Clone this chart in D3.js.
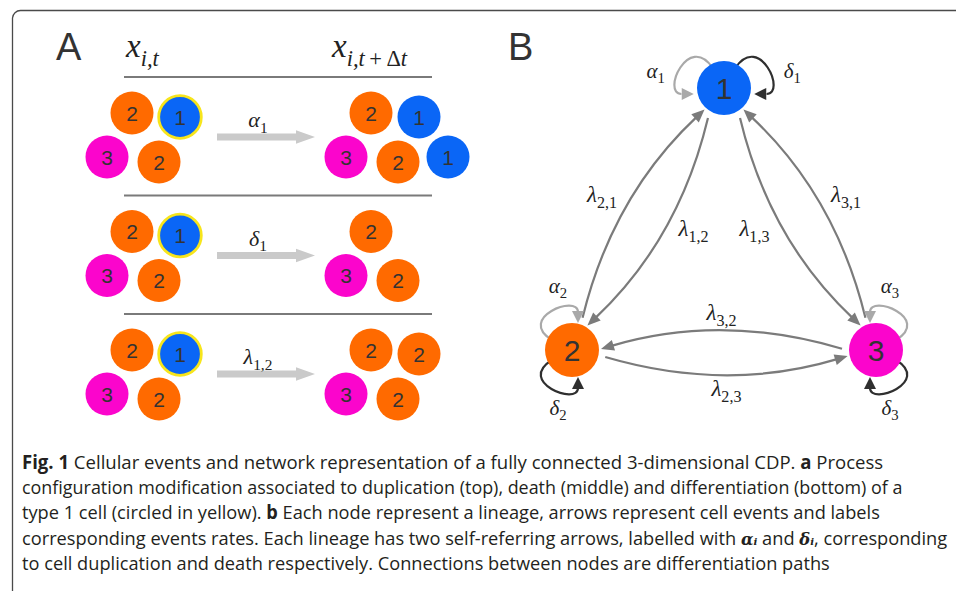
<!DOCTYPE html>
<html>
<head>
<meta charset="utf-8">
<script src="https://cdn.jsdelivr.net/npm/d3@7"></script>
<style>
  html, body { margin: 0; padding: 0; background: #fff; }
  svg { display: block; }
</style>
</head>
<body>
<svg id="fig" width="956" height="591"></svg>
<script>
// ---------------- data ----------------
// cell lineages (types) and their colours
const lineages = ["1", "2", "3"];
const lineageColors = ["#0a66f6", "#ff6a00", "#fb05cc"];

// panel A: the three events acting on the circled type 1 cell
const eventSymbols = ["α", "δ", "λ"];
const eventSubscripts = ["1", "1", "1,2"];
// cell configuration before / after each event ("" = empty place)
const cellsBefore = [["2", "1", "3", "2"], ["2", "1", "3", "2"], ["2", "1", "3", "2"]];
const cellsAfter  = [["2", "1", "3", "2", "1"], ["2", "", "3", "2"], ["2", "2", "3", "2"]];
const focusPlace = 1; // place of the cell circled in yellow

// panel B: differentiation paths (source -> target) and self events
const pathSources = ["2", "1", "1", "3", "3", "2"];
const pathTargets = ["1", "2", "3", "1", "2", "3"];
const selfEvents = ["α", "δ"];

// caption lines; **bold**, $greek$ = math symbol
const captionLines = [
  "**Fig. 1**  Cellular events and network representation of a fully connected 3-dimensional CDP. **a** Process",
  "configuration modification associated to duplication (top), death (middle) and differentiation (bottom) of a",
  "type 1 cell (circled in yellow). **b** Each node represent a lineage, arrows represent cell events and labels",
  "corresponding events rates. Each lineage has two self-referring arrows, labelled with $αᵢ$ and $δᵢ$, corresponding",
  "to cell duplication and death respectively. Connections between nodes are differentiation paths"
];

// ---------------- drawing ----------------
const svg = d3.select("#fig");
const color = d3.scaleOrdinal().domain(lineages).range(lineageColors);
const SERIF = "'Liberation Serif', 'DejaVu Serif', serif";
const SANS = "'Liberation Sans', Arial, Helvetica, sans-serif";

// frame
svg.append("path")
  .attr("d", "M12.5,591 V18 A8,8 0 0 1 20.5,10.5 H956")
  .attr("fill", "none").attr("stroke", "#4a4a4a").attr("stroke-width", 1.3);

// math label: italic symbol followed by a subscript made of [text, italic] parts
function mathText(parent, x, y, sym, subParts, size, anchor, subRatio) {
  const r = subRatio || 0.7;
  const t = parent.append("text")
    .attr("x", x).attr("y", y)
    .attr("text-anchor", anchor || "start")
    .attr("fill", "#222")
    .style("font-family", SERIF)
    .style("font-size", size + "px");
  t.append("tspan").style("font-style", "italic").text(sym);
  subParts.forEach((p, i) => {
    const s = t.append("tspan")
      .style("font-size", (size * r) + "px")
      .style("font-style", p[1] ? "italic" : "normal")
      .text(p[0]);
    if (i === 0) s.attr("dy", size * 0.26);
  });
  return t;
}

// ---- panel letters ----
[["A", 56], ["B", 508]].forEach(([s, x]) => {
  svg.append("text").attr("x", x).attr("y", 60)
    .attr("fill", "#333").style("font-family", SANS).style("font-size", "38px").text(s);
});

// ================= panel A =================
const gA = svg.append("g");
const rowY = d3.scalePoint().domain(d3.range(cellsBefore.length)).range([113, 350]);
const colX = d3.scalePoint().domain(["before", "after"]).range([132, 371]);
const places = [[0, 0], [48, 4], [-25, 44], [27, 49], [77, 44]];
const cellR = 21.5;

// column headers
mathText(gA, 126, 57, "x", [["i,t", true]], 33, "start", 0.68);
mathText(gA, 332, 57, "x", [["i,t", true], ["\u2009+\u2009", false], ["Δ", false], ["t", true]], 33, "start", 0.68);

// separators
d3.range(cellsBefore.length).forEach(i => {
  gA.append("line")
    .attr("x1", 124).attr("x2", 432)
    .attr("y1", rowY(i) - 36).attr("y2", rowY(i) - 36)
    .attr("stroke", "#7a7a7a").attr("stroke-width", 2);
});

function drawCluster(cells, cx, cy, ringAt) {
  cells.forEach((c, j) => {
    if (!c) return;
    const x = cx + places[j][0], y = cy + places[j][1];
    const ring = j === ringAt;
    gA.append("circle")
      .attr("cx", x).attr("cy", y)
      .attr("r", ring ? cellR - 0.2 : cellR)
      .attr("fill", color(c))
      .attr("stroke", ring ? "#f7e51c" : "none")
      .attr("stroke-width", ring ? 2.8 : 0);
    gA.append("text")
      .attr("x", x).attr("y", y + 7.5)
      .attr("text-anchor", "middle")
      .attr("fill", "#333")
      .style("font-family", SANS).style("font-size", "21px")
      .text(c);
  });
}

cellsBefore.forEach((row, i) => {
  const y = rowY(i);
  drawCluster(row, colX("before"), y, focusPlace);
  drawCluster(cellsAfter[i], colX("after"), y, -1);
  // event arrow
  const ay = y + 24;
  const p = d3.path();
  p.moveTo(217, ay - 3.6); p.lineTo(296, ay - 3.6); p.lineTo(296, ay - 6.8);
  p.lineTo(315, ay); p.lineTo(296, ay + 6.8); p.lineTo(296, ay + 3.6);
  p.lineTo(217, ay + 3.6); p.closePath();
  gA.append("path").attr("d", p.toString()).attr("fill", "#cacaca");
  mathText(gA, 258, ay - 10, eventSymbols[i], [[eventSubscripts[i], false]], 22, "middle");
});

// ================= panel B =================
const gB = svg.append("g");
const gLoops = gB.append("g");   // loop strokes sit under the nodes
const gNodes = gB.append("g");
const gTop = gB.append("g");     // paths, arrowheads and labels above
const nodeR = 27;
const tri = { "1": [0, 0], "2": [-1, 1], "3": [1, 1] };
const bx = d3.scaleLinear().domain([-1, 1]).range([572, 876]);
const by = d3.scaleLinear().domain([0, 1]).range([88, 350]);
const pos = id => [bx(tri[id][0]), by(tri[id][1])];
const centroid = [bx(0), by(2 / 3)];
// +1: path bows away from the triangle centre, -1: towards it
const bendSide = { "2>1": 1, "1>2": -1, "1>3": -1, "3>1": 1, "3>2": -1, "2>3": 1 };
const EDGE = "#7b7b7b";

function arrowHead(g, tip, dir, len, half, fill) {
  const b = [tip[0] - dir[0] * len, tip[1] - dir[1] * len];
  const q = [-dir[1], dir[0]];
  const p = d3.path();
  p.moveTo(tip[0], tip[1]);
  p.lineTo(b[0] + q[0] * half, b[1] + q[1] * half);
  p.lineTo(b[0] - q[0] * half, b[1] - q[1] * half);
  p.closePath();
  g.append("path").attr("d", p.toString()).attr("fill", fill);
  return b;
}

// nodes
lineages.forEach(id => {
  const [x, y] = pos(id);
  gNodes.append("circle").attr("cx", x).attr("cy", y).attr("r", nodeR).attr("fill", color(id));
  gNodes.append("text").attr("x", x).attr("y", y + 10.5)
    .attr("text-anchor", "middle").attr("fill", "#333")
    .style("font-family", SANS).style("font-size", "30px").text(id);
});

// differentiation paths
pathSources.forEach((s, i) => {
  const t = pathTargets[i];
  const k = bendSide[s + ">" + t];
  const S = pos(s), T = pos(t);
  const dx = T[0] - S[0], dy = T[1] - S[1], len = Math.hypot(dx, dy);
  const u = [dx / len, dy / len];
  let n = [-u[1], u[0]];
  const mid = [(S[0] + T[0]) / 2, (S[1] + T[1]) / 2];
  if ((mid[0] - centroid[0]) * n[0] + (mid[1] - centroid[1]) * n[1] < 0) n = [-n[0], -n[1]];
  const side = [k * n[0], k * n[1]];
  const tilt = (k > 0 ? 12 : 2) * Math.PI / 180;
  const c = Math.cos(tilt), sn = Math.sin(tilt);
  const dS = [c * u[0] + sn * side[0], c * u[1] + sn * side[1]];
  const dT = [-c * u[0] + sn * side[0], -c * u[1] + sn * side[1]];
  const start = [S[0] + (nodeR + 7) * dS[0], S[1] + (nodeR + 7) * dS[1]];
  const tip = [T[0] + (nodeR + 2) * dT[0], T[1] + (nodeR + 2) * dT[1]];
  const cm = [(start[0] + tip[0]) / 2, (start[1] + tip[1]) / 2];
  const bow = 18;
  const ctrl = [cm[0] + 2 * bow * side[0], cm[1] + 2 * bow * side[1]];
  const tl = Math.hypot(tip[0] - ctrl[0], tip[1] - ctrl[1]);
  const tan = [(tip[0] - ctrl[0]) / tl, (tip[1] - ctrl[1]) / tl];
  const base = [tip[0] - tan[0] * 12, tip[1] - tan[1] * 12];
  const p = d3.path();
  p.moveTo(start[0], start[1]);
  p.quadraticCurveTo(ctrl[0], ctrl[1], base[0] + tan[0] * 2, base[1] + tan[1] * 2);
  gTop.append("path").attr("d", p.toString()).attr("fill", "none")
    .attr("stroke", EDGE).attr("stroke-width", 2.2);
  arrowHead(gTop, tip, tan, 13, 5.5, EDGE);
  // rate label beside the middle of the path
  const cmid = [cm[0] + bow * side[0], cm[1] + bow * side[1]];
  const shift = k < 0 ? -10 * Math.abs(u[1]) : 0;
  const lx = cmid[0] + side[0] * 30 + u[0] * shift;
  const ly = cmid[1] + side[1] * 16 + u[1] * shift;
  mathText(gTop, lx, ly + 5, "λ", [[s + "," + t, false]], 23, "middle");
});

// self loops: shape for a loop on the upper left of a node, arrow pointing down
const loopShape = { p0: [-20, -10], c1: [-56, -32], c2: [6, -56], p3: [6, -38], tip: [6, -27], label: [-14, -61] };
// orientation matrices [a, b, c, d]: (x, y) -> (a x + b y, c x + d y)
const loopFrame = {
  "1": { "α": [0, 1.12, 1, 0], "δ": [0, -1.12, 1, 0] },
  "2": { "α": [1, 0, 0, 1], "δ": [1, 0, 0, -1] },
  "3": { "α": [-1, 0, 0, 1], "δ": [-1, 0, 0, -1] }
};
const loopColor = { "α": "#a9a9a9", "δ": "#2f2f2f" };

lineages.forEach(id => {
  const [x0, y0] = pos(id);
  selfEvents.forEach(ev => {
    const m = loopFrame[id][ev];
    const tr = v => [x0 + m[0] * v[0] + m[1] * v[1], y0 + m[2] * v[0] + m[3] * v[1]];
    const p0 = tr(loopShape.p0), c1 = tr(loopShape.c1), c2 = tr(loopShape.c2),
          p3 = tr(loopShape.p3), tip = tr(loopShape.tip);
    const p = d3.path();
    p.moveTo(p0[0], p0[1]);
    p.bezierCurveTo(c1[0], c1[1], c2[0], c2[1], p3[0], p3[1]);
    gLoops.append("path").attr("d", p.toString()).attr("fill", "none")
      .attr("stroke", loopColor[ev]).attr("stroke-width", 2.2);
    const dl = Math.hypot(tip[0] - p3[0], tip[1] - p3[1]);
    arrowHead(gTop, tip, [(tip[0] - p3[0]) / dl, (tip[1] - p3[1]) / dl], 12, 6, loopColor[ev]);
    const lp = tr(loopShape.label);
    mathText(gTop, lp[0], lp[1] + 4, ev, [[id, false]], 21, "middle");
  });
});

// ================= caption =================
const capX = 22, capY0 = 469, capStep = 25.2;
const capTarget = [862, 881, 858, 926, 808];
captionLines.forEach((line, i) => {
  const t = svg.append("text")
    .attr("x", 0).attr("y", 0)
    .attr("fill", "#231f20")
    .style("font-family", "'Open Sans', 'Noto Sans', sans-serif")
    .style("font-size", "19px");
  line.split(/(\*\*[^*]+\*\*|\$[^$]+\$)/).filter(s => s.length).forEach(seg => {
    if (seg.startsWith("**")) {
      t.append("tspan").style("font-weight", "bold").text(seg.slice(2, -2));
    } else if (seg.startsWith("$")) {
      t.append("tspan").style("font-family", "'DejaVu Serif', serif").style("font-style", "italic")
        .style("font-weight", "bold").style("font-size", "17px").text(seg.slice(1, -1));
    } else {
      t.append("tspan").text(seg);
    }
  });
  const w = t.node().getComputedTextLength();
  t.attr("transform", `translate(${capX},${capY0 + i * capStep}) scale(${capTarget[i] / w},1)`);
});
</script>
</body>
</html>
